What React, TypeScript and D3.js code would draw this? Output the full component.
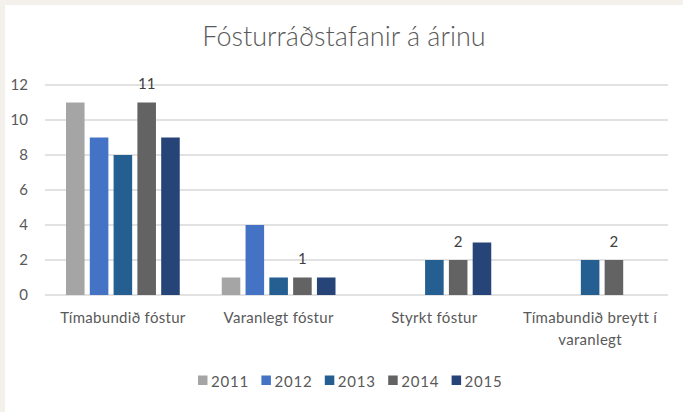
import React from "react";
import * as d3 from "d3";

const categories = ["Tímabundið fóstur", "Varanlegt fóstur", "Styrkt fóstur", "Tímabundið breytt í varanlegt"];
const categoryLines = [["Tímabundið fóstur"], ["Varanlegt fóstur"], ["Styrkt fóstur"], ["Tímabundið breytt í", "varanlegt"]];
const years = ["2011", "2012", "2013", "2014", "2015"];
const values2011 = [11, 1, 0, 0];
const values2012 = [9, 4, 0, 0];
const values2013 = [8, 1, 2, 2];
const values2014 = [11, 1, 2, 2];
const values2015 = [9, 1, 3, 0];
const seriesValues = [values2011, values2012, values2013, values2014, values2015];
const colors = ["#a5a5a5", "#4472c4", "#255e91", "#636363", "#264478"];
const yTicks = [0, 2, 4, 6, 8, 10, 12];
const labeledSeries = "2014";

const W = 683;
const H = 412;
const FONT = "Lato, 'Open Sans', sans-serif";
const TEXT = "#595959";

export default function App() {
  const left = 45;
  const right = 668;
  const top = 85;
  const bottom = 295;

  const x0 = d3.scaleBand<string>().domain(categories).range([left, right]).padding(0);
  const groupPad = 21;
  const x1 = d3
    .scaleBand<string>()
    .domain(years)
    .range([groupPad, x0.bandwidth() - groupPad])
    .paddingInner(0.22)
    .paddingOuter(0);
  const y = d3.scaleLinear().domain([0, 12]).range([bottom, top]);

  const legendX = d3.scaleBand<string>().domain(years).range([198, 515]);

  return (
    <svg
      width={W}
      height={H}
      style={{ position: "absolute", left: 0, top: 0, display: "block" }}
      fontFamily={FONT}
    >
      <rect x={0} y={0} width={W} height={H} fill="#f4f1ec" />
      <rect x={5} y={5} width={W - 5} height={H - 5} fill="#ffffff" />
      <text x={344} y={46} textAnchor="middle" fontSize={27} fontWeight={300} fill={TEXT}>
        Fósturráðstafanir á árinu
      </text>
      {yTicks.map((t) => (
        <g key={t}>
          <line x1={left} x2={right} y1={y(t)} y2={y(t)} stroke="#d9d9d9" strokeWidth={1.3} />
          <text x={28} y={y(t)} dy="0.36em" textAnchor="end" fontSize={15} fill={TEXT}>
            {t}
          </text>
        </g>
      ))}
      {categories.map((c, ci) => (
        <g key={c} transform={`translate(${x0(c)},0)`}>
          {years.map((yr, si) => {
            const v = seriesValues[si][ci];
            return (
              <g key={yr}>
                {v > 0 && (
                  <rect
                    x={x1(yr)}
                    y={y(v)}
                    width={x1.bandwidth()}
                    height={y(0) - y(v)}
                    fill={colors[si]}
                  />
                )}
                {yr === labeledSeries && (
                  <text
                    x={(x1(yr) as number) + x1.bandwidth() / 2}
                    y={y(v) - 13.5}
                    textAnchor="middle"
                    fontSize={15}
                    fill="#404040"
                  >
                    {v}
                  </text>
                )}
              </g>
            );
          })}
          {categoryLines[ci].map((line, li) => (
            <text
              key={li}
              x={x0.bandwidth() / 2}
              y={323 + li * 22}
              textAnchor="middle"
              fontSize={15}
              letterSpacing={0.3}
              fill={TEXT}
            >
              {line}
            </text>
          ))}
        </g>
      ))}
      {years.map((yr, si) => (
        <g key={yr} transform={`translate(${legendX(yr)},0)`}>
          <rect x={0} y={375.5} width={9.5} height={9.5} fill={colors[si]} />
          <text x={13} y={387} fontSize={15} letterSpacing={0.8} fill={TEXT}>
            {yr}
          </text>
        </g>
      ))}
    </svg>
  );
}
